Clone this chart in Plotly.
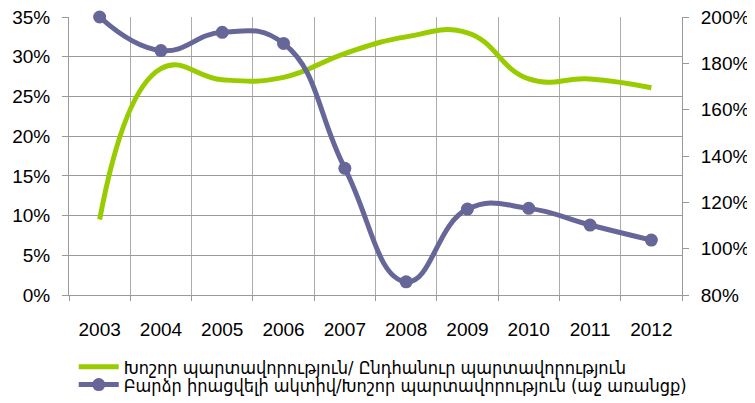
import plotly.graph_objects as go

years = ['2003', '2004', '2005', '2006', '2007', '2008', '2009', '2010', '2011', '2012']

# Խոշոր պարտավորություն / Ընդհանուր պարտավորություն (left axis, share)
large_to_total = [0.095, 0.285, 0.271, 0.274, 0.304, 0.325, 0.330, 0.272, 0.272, 0.261]

# Բարձր իրացվելի ակտիվ / Խոշոր պարտավորություն (right axis, share)
liquid_to_large = [2.00, 1.855, 1.934, 1.886, 1.347, 0.857, 1.171, 1.174, 1.102, 1.037]

green_name = 'Խոշոր պարտավորություն/ Ընդհանուր պարտավորություն'
purple_name = 'Բարձր իրացվելի ակտիվ/Խոշոր պարտավորություն (աջ առանցք)'

font_family = 'Liberation Sans, Arial, DejaVu Sans'
legend_family = 'DejaVu Sans Condensed, DejaVu Sans, sans-serif'

fig = go.Figure()

fig.add_trace(go.Scatter(
    x=years,
    y=large_to_total,
    name=green_name,
    mode='lines',
    line=dict(color='#99CC00', width=5, shape='spline', smoothing=1.3),
    yaxis='y',
    legend='legend',
    cliponaxis=False,
))

fig.add_trace(go.Scatter(
    x=years,
    y=liquid_to_large,
    name=purple_name,
    mode='lines+markers',
    line=dict(color='#666699', width=5, shape='spline', smoothing=1.3),
    marker=dict(symbol='circle', size=13, color='#666699'),
    yaxis='y2',
    legend='legend2',
    cliponaxis=False,
))

# each legend holds one entry, placed in container coords so it doesn't push the plot
legend_style = dict(
    orientation='h',
    xref='container',
    yref='container',
    x=0.088,
    xanchor='left',
    yanchor='middle',
    font=dict(family=legend_family, size=18, color='black'),
    bgcolor='rgba(0,0,0,0)',
    borderwidth=0,
    itemwidth=40,
)

# page body has an 8px margin, so the figure is a bit smaller than the window
fig.update_layout(
    width=747,
    height=395,
    plot_bgcolor='white',
    paper_bgcolor='white',
    margin=dict(l=61, r=73, t=9, b=108),
    font=dict(family=font_family, size=19, color='black'),
    xaxis=dict(
        type='category',
        range=[-0.5, 9.5],
        tickson='boundaries',
        ticks='outside',
        ticklen=5,
        tickcolor='#999999',
        showgrid=True,
        gridcolor='#ABABAB',
        gridwidth=1,
        showline=True,
        linecolor='#999999',
        linewidth=1,
        ticklabelstandoff=17,
        tickfont=dict(size=19),
        automargin=False,
    ),
    yaxis=dict(
        range=[0, 0.35],
        dtick=0.05,
        tickformat='.0%',
        ticks='outside',
        ticklen=6,
        tickcolor='#999999',
        showgrid=True,
        gridcolor='#999999',
        gridwidth=1,
        showline=True,
        linecolor='#999999',
        zeroline=False,
        ticklabelstandoff=8,
        ticklabeloverflow='allow',
        automargin=False,
    ),
    yaxis2=dict(
        range=[0.8, 2.0],
        dtick=0.2,
        tickformat='.0%',
        overlaying='y',
        side='right',
        ticks='outside',
        ticklen=6,
        tickcolor='#999999',
        showgrid=False,
        showline=True,
        linecolor='#999999',
        zeroline=False,
        ticklabelstandoff=8,
        ticklabeloverflow='allow',
        automargin=False,
    ),
    legend=dict(legend_style, y=0.091),
    legend2=dict(legend_style, y=0.046),
    showlegend=True,
)

fig.write_html("out.html")
